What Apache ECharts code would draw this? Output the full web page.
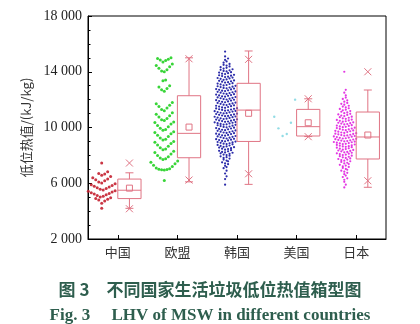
<!DOCTYPE html>
<html>
<head>
<meta charset="utf-8">
<script src="https://cdn.jsdelivr.net/npm/echarts@6/dist/echarts.min.js"></script>
<style>html,body{margin:0;padding:0;background:#fff;}#c{width:420px;height:324px;}</style>
</head>
<body>
<div id="c"></div>
<script>
// ---------- data ----------
const categories = ['中国', '欧盟', '韩国', '美国', '日本'];
const yTickValues = [2000, 6000, 10000, 14000, 18000];
const yTickLabels = ['2 000', '6 000', '10 000', '14 000', '18 000'];

// box statistics: [whiskerLow, Q1, median, Q3, whiskerHigh, mean, minX, maxX]
const boxChina = [4200, 4900, 5500, 6300, 6750, 5650, 4170, 7450];
const boxEU    = [6100, 7830, 9580, 12280, 15000, 10030, 6230, 14930];
const boxKorea = [5920, 9000, 11250, 13170, 15490, 11020, 6680, 14890];
const boxUSA   = [9350, 9390, 10060, 11300, 12060, 10340, 9340, 12060];
const boxJapan = [5710, 7740, 9320, 11110, 12690, 9460, 6180, 14000];

// raw points (kJ/kg)
const ptsChina = [7450, 6820, 6700, 6660, 6580, 6480, 6400, 6310, 6250, 6180, 6090, 6010,
  5960, 5900, 5840, 5790, 5730, 5680, 5620, 5570, 5520, 5470, 5420, 5380, 5320, 5260,
  5220, 5170, 5120, 5060, 5010, 4960, 4910, 4860, 4800, 4720, 4560, 4200];
const ptsEU = [6200,
  6950, 6970, 6990, 7010, 7040, 7100, 7200, 7300, 7400, 7500, 7600,
  7700, 7750, 7820, 7900, 8000, 8100, 8200, 8300,
  8400, 8450, 8550, 8650, 8750, 8850, 8950, 9000,
  9100, 9150, 9250, 9350, 9450, 9550, 9650, 9700,
  9800, 9850, 9950, 10050, 10150, 10250, 10350, 10400,
  10500, 10550, 10650, 10750, 10850, 10950, 11050,
  11200, 11300, 11400, 11500, 11600, 11700, 11800,
  12600, 12700, 12800, 12900, 13000,
  13350, 13400,
  14000, 14050, 14150, 14250, 14350, 14450, 14550,
  14700, 14800, 14850, 14900, 14950, 15000];
const ptsKorea = [5900, 6300, 6500, 6700, 6900, 7080, 7160, 7250, 7370,
  7420, 7500, 7570, 7630, 7700, 7770,
  7820, 7870, 7930, 7980, 8020, 8060, 8110, 8150, 8190,
  8210, 8250, 8290, 8330, 8370, 8410, 8450, 8480, 8520, 8560, 8590,
  8610, 8640, 8680, 8710, 8750, 8790, 8810, 8840, 8870, 8900, 8930, 8960, 8990,
  9010, 9040, 9070, 9100, 9130, 9160, 9190, 9210, 9240, 9270, 9300, 9330, 9360, 9390,
  9410, 9440, 9470, 9500, 9530, 9560, 9590, 9610, 9640, 9670, 9700, 9730, 9760, 9790,
  9810, 9840, 9870, 9900, 9930, 9960, 9990, 10010, 10040, 10070, 10100, 10130, 10160, 10190,
  10210, 10230, 10260, 10290, 10310, 10340, 10370, 10390,
  10410, 10430, 10460, 10490, 10510, 10540, 10570, 10590,
  10610, 10630, 10660, 10690, 10710, 10740, 10770, 10790,
  10810, 10830, 10860, 10890, 10910, 10940, 10970, 10990,
  11010, 11030, 11060, 11090, 11110, 11140, 11170, 11190,
  11210, 11230, 11260, 11290, 11310, 11340, 11370, 11390,
  11410, 11440, 11470, 11500, 11530, 11560, 11590,
  11610, 11640, 11670, 11700, 11730, 11760, 11790,
  11810, 11840, 11870, 11900, 11930, 11960, 11990,
  12010, 12040, 12070, 12100, 12130, 12160, 12190,
  12210, 12240, 12270, 12300, 12330, 12360, 12390,
  12410, 12440, 12470, 12500, 12530, 12560, 12590,
  12610, 12640, 12670, 12700, 12730, 12760, 12790,
  12810, 12840, 12870, 12900, 12930, 12960, 12990,
  13020, 13050, 13090, 13120, 13150, 13180,
  13220, 13250, 13290, 13320, 13350, 13380,
  13420, 13450, 13490, 13520, 13550, 13580,
  13620, 13650, 13690, 13720, 13750, 13780,
  13830, 13860, 13900, 13940, 13970,
  14020, 14060, 14100, 14140, 14180,
  14230, 14280, 14330, 14380,
  14440, 14500, 14560,
  14650, 14740, 14850, 14950, 15100, 15450];
const ptsUSA = [12000, 10770, 10340, 9940, 9530, 9390];
const ptsJapan = [5700, 5900, 6100, 6250, 6350, 6450, 6550, 6650, 6750,
  6830, 6900, 6970, 7030, 7100, 7170,
  7220, 7270, 7320, 7380, 7420, 7470, 7530, 7580,
  7620, 7660, 7700, 7740, 7780, 7820, 7860, 7900, 7940, 7980,
  8020, 8050, 8090, 8120, 8150, 8190, 8220, 8250, 8290, 8320, 8350, 8390,
  8410, 8450, 8480, 8510, 8550, 8590,
  8610, 8640, 8660, 8690, 8720, 8750, 8780,
  8810, 8830, 8860, 8880, 8910, 8940, 8960, 8990,
  9010, 9030, 9060, 9080, 9110, 9140, 9160, 9190,
  9210, 9230, 9260, 9280, 9310, 9340, 9360, 9390,
  9410, 9430, 9460, 9480, 9510, 9540, 9560, 9590,
  9610, 9640, 9670, 9700, 9730, 9760, 9790,
  9810, 9840, 9870, 9900, 9930, 9960, 9990,
  10020, 10050, 10080, 10110, 10140, 10170,
  10220, 10250, 10280, 10310, 10340, 10370,
  10420, 10450, 10480, 10510, 10540, 10570,
  10620, 10660, 10700, 10740, 10780,
  10820, 10860, 10900, 10940, 10980,
  11030, 11080, 11130, 11180,
  11230, 11280, 11330, 11380,
  11450, 11500, 11560,
  11640, 11700, 11760,
  11850, 11950, 12050, 12150, 12300, 12500, 12700, 14000];

const groupColors = ['#c42030', '#22d022', '#1414a0', '#86d8e2', '#e020e0'];
const boxColor = '#e07484';

// ---------- layout (beeswarm by bins) ----------
function swarm(values, center, origin, binW, dx, stagger) {
  const bins = {};
  values.forEach(v => {
    const k = Math.floor((v - origin) / binW);
    (bins[k] = bins[k] || []).push(v);
  });
  const pts = [];
  Object.keys(bins).forEach(key => {
    const arr = bins[key].slice().sort((a, b) => a - b);
    const n = arr.length;
    const shift = stagger && (Number(key) % 2 === 1) ? dx / 2 : 0;
    const pos = [];
    for (let j = 0; j < n; j++) pos.push((j - (n - 1) / 2) * dx);
    pos.sort((a, b) => Math.abs(a) - Math.abs(b) || a - b);
    arr.forEach((v, j) => pts.push([center + pos[j] + shift, v]));
  });
  return pts;
}

const groups = [
  { pts: ptsChina, box: boxChina, off: -0.27, origin: 4000, binW: 500, dx: 0.05, size: 3, stagger: true },
  { pts: ptsEU, box: boxEU, off: -0.22, origin: 6250, binW: 700, dx: 0.045, size: 3, stagger: false },
  { pts: ptsKorea, box: boxKorea, off: -0.2, origin: 5800, binW: 200, dx: 0.05, size: 2.2, stagger: true },
  { pts: ptsUSA, box: boxUSA, off: -0.2, origin: 0, binW: 20000, dx: 0.07, size: 2.4, stagger: false },
  { pts: ptsJapan, box: boxJapan, off: -0.2, origin: 5600, binW: 200, dx: 0.05, size: 2.2, stagger: true }
];

const series = [];
groups.forEach((g, i) => {
  series.push({
    type: 'scatter',
    xAxisIndex: 1,
    yAxisIndex: 0,
    symbol: 'circle',
    symbolSize: g.size,
    itemStyle: { color: groupColors[i], opacity: 0.9 },
    data: swarm(g.pts, i + g.off, g.origin, g.binW, g.dx, g.stagger),
    silent: true,
    z: 2
  });
});

const boxData = groups.map((g, i) => [i].concat(g.box));

series.push({
  type: 'custom',
  xAxisIndex: 1,
  yAxisIndex: 0,
  encode: { x: 0, y: [1, 2, 3, 4, 5, 6, 7, 8] },
  data: boxData,
  z: 3,
  renderItem: function (params, api) {
    const i = api.value(0);
    const lo = api.value(1), q1 = api.value(2), med = api.value(3), q3 = api.value(4),
          hi = api.value(5), mean = api.value(6), mn = api.value(7), mx = api.value(8);
    const x0 = api.coord([i, lo])[0];
    const x1 = api.coord([i + 0.39, lo])[0];
    const xc = (x0 + x1) / 2;
    const Y = v => api.coord([i, v])[1];
    const st = { stroke: boxColor, lineWidth: 1, fill: null };
    const line = (ax, ay, bx, by) => ({ type: 'line', shape: { x1: ax, y1: ay, x2: bx, y2: by }, style: st });
    const cross = (cx, cy, r) => [line(cx - r, cy - r, cx + r, cy + r), line(cx - r, cy + r, cx + r, cy - r)];
    const cap = 4;
    const ch = [
      { type: 'rect', shape: { x: x0, y: Y(q3), width: x1 - x0, height: Y(q1) - Y(q3) }, style: { stroke: boxColor, lineWidth: 1, fill: 'rgba(255,255,255,0)' } },
      line(x0, Y(med), x1, Y(med)),
      line(xc, Y(q3), xc, Y(hi)),
      line(xc, Y(q1), xc, Y(lo)),
      line(xc - cap, Y(hi), xc + cap, Y(hi)),
      line(xc - cap, Y(lo), xc + cap, Y(lo)),
      { type: 'rect', shape: { x: xc - 3, y: Y(mean) - 3, width: 6, height: 6 }, style: { stroke: boxColor, lineWidth: 1, fill: 'rgba(255,255,255,0)' } }
    ].concat(cross(xc, Y(mn), 3.5), cross(xc, Y(mx), 3.5));
    return { type: 'group', children: ch };
  }
});

const chart = echarts.init(document.getElementById('c'), null, { renderer: 'canvas' });
chart.setOption({
  backgroundColor: '#fff',
  animation: false,
  title: [
    {
      text: '图 3　不同国家生活垃圾低位热值箱型图',
      left: 'center', top: 276,
      textStyle: { fontFamily: 'Noto Sans CJK SC', fontSize: 17, fontWeight: 'bold', color: '#2e5e4e' }
    },
    {
      text: 'Fig. 3     LHV of MSW in different countries',
      left: 'center', top: 302,
      textStyle: { fontFamily: 'Liberation Serif', fontSize: 17, fontWeight: 'bold', color: '#2e5e4e' }
    }
  ],
  grid: { left: 88, right: 34, top: 16, bottom: 85, show: true, borderColor: '#000', borderWidth: 1, containLabel: false },
  xAxis: [
    {
      type: 'category',
      data: categories,
      position: 'bottom',
      axisLine: { show: true, onZero: false, lineStyle: { color: '#000', width: 1 } },
      axisTick: { show: true, inside: true, alignWithLabel: true, length: 4, lineStyle: { color: '#000' } },
      axisLabel: { fontFamily: 'Noto Sans CJK SC', fontSize: 13, color: '#333', margin: 7 },
      splitLine: { show: false }
    },
    { type: 'value', min: -0.5, max: 4.5, show: false }
  ],
  yAxis: [{
    type: 'value',
    min: 2000, max: 18000, interval: 4000,
    name: '低位热值/(kJ/kg)',
    nameLocation: 'middle',
    nameRotate: 90,
    nameGap: 52,
    nameTextStyle: { fontFamily: 'Noto Sans CJK SC', fontSize: 13, color: '#333' },
    axisLine: { show: true, onZero: false, lineStyle: { color: '#000', width: 1 } },
    axisTick: { show: true, inside: true, length: 4, lineStyle: { color: '#000' } },
    minorTick: { show: true, splitNumber: 4, length: 2.5, lineStyle: { color: '#000' } },
    axisLabel: {
      fontFamily: 'Liberation Serif', fontSize: 14, color: '#222', margin: 6,
      formatter: v => { const k = yTickValues.indexOf(v); return k >= 0 ? yTickLabels[k] : ''; }
    },
    splitLine: { show: false }
  }],
  series: series
});
</script>
</body>
</html>
